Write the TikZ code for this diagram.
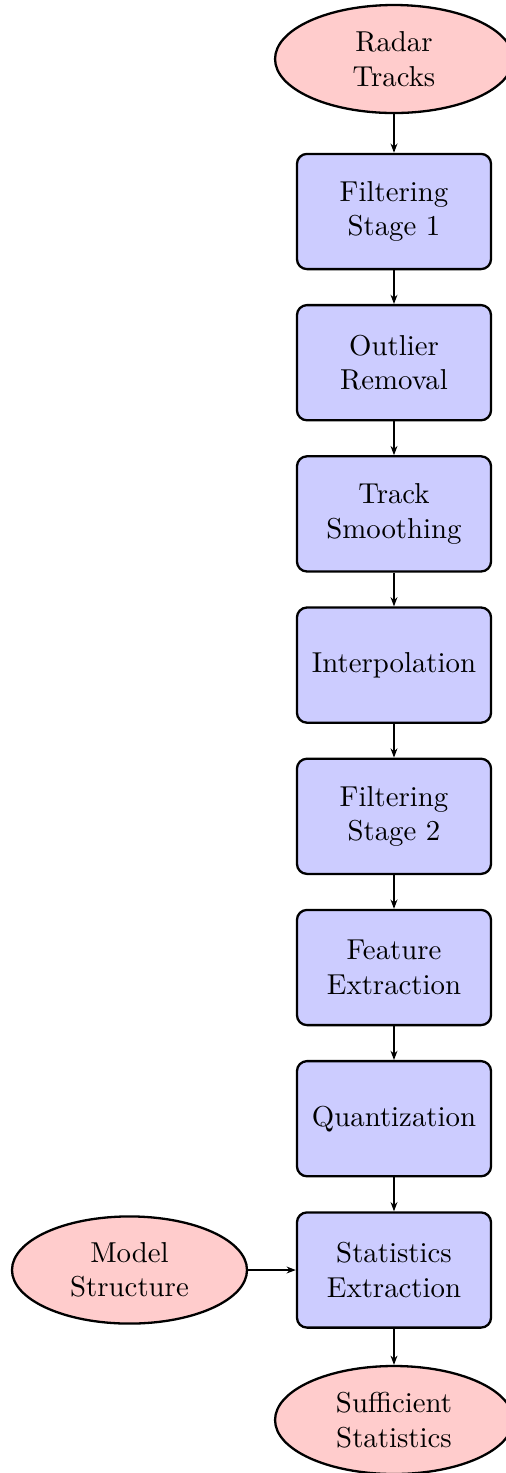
\documentclass[tikz,border=0pt]{standalone}
\usetikzlibrary{shapes.geometric,arrows.meta}
\definecolor{boxfill}{RGB}{204,204,255}
\definecolor{ellfill}{RGB}{255,204,204}
\tikzset{
  procbox/.style={draw, thick, rounded corners=3.5pt, fill=boxfill, align=center,
    minimum width=67.4pt, minimum height=40pt, inner sep=0pt},
  termell/.style={draw, thick, ellipse, fill=ellfill, align=center,
    minimum width=82.6pt, minimum height=37.5pt, inner sep=0pt},
  flow/.style={-{Stealth[length=3.2pt,width=2.4pt]}, line width=0.4pt}
}
\begin{document}
\begin{tikzpicture}[x=0.34722pt,y=-0.34722pt]
\useasboundingbox (0,0) rectangle (506,1473);
\clip (0,0) rectangle (506,1473);
\node[termell] (radar) at (394,59) {Radar\\Tracks};
\node[procbox] (f1) at (394,211.5) {Filtering\\Stage 1};
\node[procbox] (out) at (394,362.7) {Outlier\\Removal};
\node[procbox] (smooth) at (394,513.9) {Track\\Smoothing};
\node[procbox] (interp) at (394,665.1) {Interpolation};
\node[procbox] (f2) at (394,816.3) {Filtering\\Stage 2};
\node[procbox] (feat) at (394,967.5) {Feature\\Extraction};
\node[procbox] (quant) at (394,1118.7) {Quantization};
\node[procbox] (stat) at (394,1270) {Statistics\\Extraction};
\node[termell] (suff) at (394,1420) {Sufficient\\Statistics};
\node[termell, minimum width=81.6pt, minimum height=37.2pt] (model) at (129.5,1270) {Model\\Structure};
\draw[flow] (radar) -- (f1);
\draw[flow] (f1) -- (out);
\draw[flow] (out) -- (smooth);
\draw[flow] (smooth) -- (interp);
\draw[flow] (interp) -- (f2);
\draw[flow] (f2) -- (feat);
\draw[flow] (feat) -- (quant);
\draw[flow] (quant) -- (stat);
\draw[flow] (stat) -- (suff);
\draw[flow] (model) -- (stat);
\end{tikzpicture}
\end{document}
